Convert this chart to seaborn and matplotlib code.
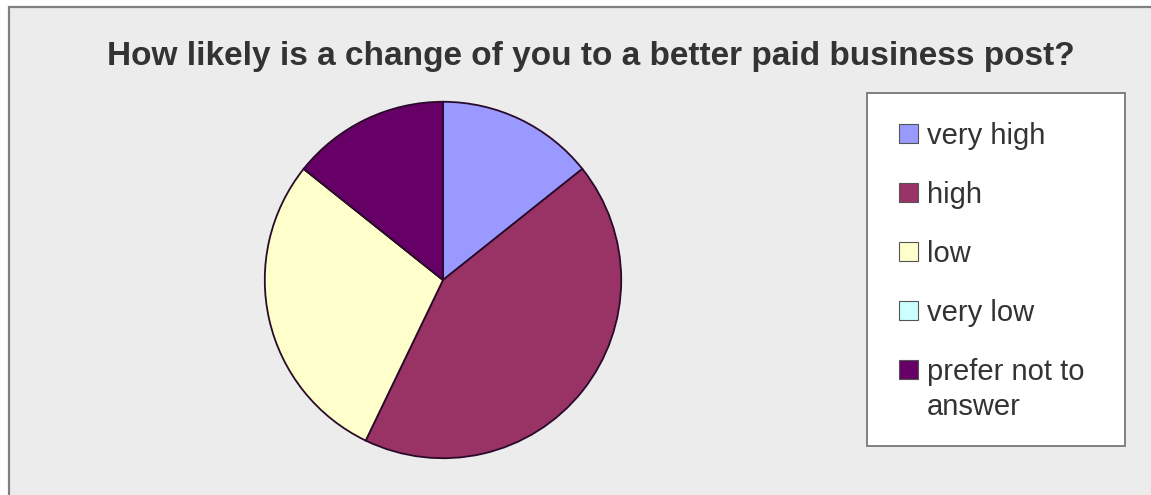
import matplotlib
matplotlib.use("Agg")
import matplotlib.pyplot as plt
import seaborn as sns
from matplotlib.patches import Rectangle, Patch

# Survey answers (number of respondents per category)
categories = ["very high", "high", "low", "very low", "prefer not to"]
last_label_cont = "answer"
counts = [1, 3, 2, 0, 1]
colors = ["#9999FF", "#993366", "#FFFFCC", "#CCFFFF", "#660066"]
title = "How likely is a change of you to a better paid business post?"

sns.set_theme(style="white")
plt.rcParams["font.family"] = ["Liberation Sans", "DejaVu Sans"]

W, H = 1151, 495
fig = plt.figure(figsize=(W / 100, H / 100), dpi=100, facecolor="white")

# Grey chart area with a border on the left and top
fig.patches.append(Rectangle((8.5 / W, -0.05), 1.1, (H - 7) / H + 0.05,
                             transform=fig.transFigure, facecolor="#ECECEC",
                             edgecolor="#808080", linewidth=1.6, zorder=-2))

fig.text(591 / W, 1 - 57 / H, title, ha="center", va="center",
         fontsize=24, fontweight="bold", color="#333333")

# Pie axes
cx, cy, r = 443, 280, 180
ax = fig.add_axes([(cx - r) / W, (H - cy - r) / H, 2 * r / W, 2 * r / H])
ax.set_facecolor("none")
wedges, _ = ax.pie(counts, colors=colors, startangle=90, counterclock=False,
                   radius=1.0,
                   wedgeprops=dict(edgecolor="#2a0a2a", linewidth=1.3))
ax.set_xlim(-1.01, 1.01)
ax.set_ylim(-1.01, 1.01)
ax.set_aspect("equal")
ax.axis("off")

# Legend box
lx0, ly0, lx1, ly1 = 867, 93, 1125, 446
fig.patches.append(Rectangle((lx0 / W, 1 - ly1 / H), (lx1 - lx0) / W,
                             (ly1 - ly0) / H, transform=fig.transFigure,
                             facecolor="white", edgecolor="#808080",
                             linewidth=1.4, zorder=-1))

handles = [Patch(facecolor=c, edgecolor="#555555", linewidth=0.8) for c in colors]
leg = fig.legend(handles, categories, loc="upper left",
                 bbox_to_anchor=(899 / W, 1 - 122 / H), frameon=False,
                 fontsize=21, handlelength=0.66, handleheight=0.62,
                 handletextpad=0.3, labelspacing=1.06, borderpad=0,
                 borderaxespad=0)
for t in leg.get_texts():
    t.set_color("#333333")

# Second line of the last legend entry
fig.canvas.draw()
last = leg.get_texts()[-1]
bb = last.get_window_extent(fig.canvas.get_renderer())
fig.text(bb.x0 / W, (bb.y0 - 35) / H, last_label_cont, ha="left", va="bottom",
         fontsize=21, color="#333333")

fig.savefig("out.png", dpi=100, facecolor="white")
